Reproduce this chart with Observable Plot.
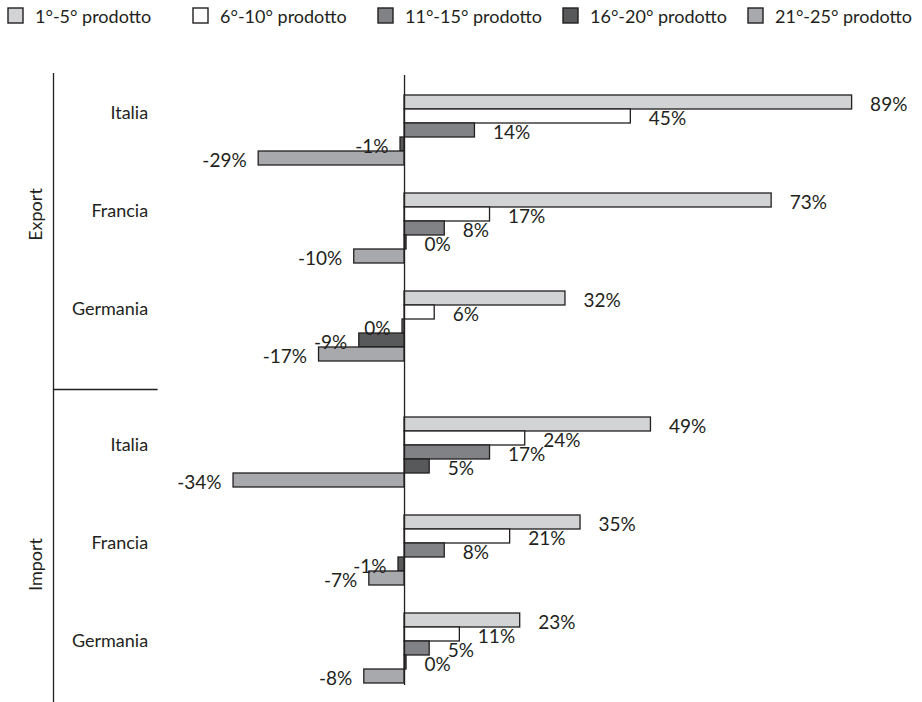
<!DOCTYPE html>
<html>
<head>
<meta charset="utf-8">
<script src="https://cdn.jsdelivr.net/npm/d3@7"></script>
<script src="https://cdn.jsdelivr.net/npm/@observablehq/plot@0.6"></script>
<style>
  html, body { margin: 0; padding: 0; background: #fff; }
  #legend { height: 40px; overflow: hidden; }
  .lg-swatches { font-family: Lato, sans-serif !important; font-size: 18px !important; color: #231f20 !important;
                 height: 31px; min-height: 31px !important; margin: 0 0 0 8px !important; display: flex; align-items: center; flex-wrap: nowrap !important; }
  .lg-swatch { width: 185px; margin: 0 !important; flex: none; white-space: nowrap; }
  .lg-swatch > svg { margin-right: 12px !important; }
  .lg-swatch > svg rect { stroke: #231f20; stroke-width: 1.4px; }
</style>
</head>
<body>
<div id="legend"></div>
<div id="chart"></div>
<script>
// Groups, countries and product-rank classes
const sections = ["Export", "Import"];
const countries = ["Italia", "Francia", "Germania"];
const series = ["1°-5° prodotto", "6°-10° prodotto", "11°-15° prodotto", "16°-20° prodotto", "21°-25° prodotto"];
const colors = ["#d1d3d4", "#ffffff", "#808285", "#58595b", "#a7a9ac"];

// Percentage values, one entry per product class (same order as `series`)
const exportItalia   = [89, 45, 14, -0.8, -29];
const exportFrancia  = [73, 17, 8, 0.4, -10];
const exportGermania = [32, 6, -0.4, -9, -17];
const importItalia   = [49, 24, 17, 5, -34];
const importFrancia  = [35, 21, 8, -1.2, -7];
const importGermania = [23, 11, 5, 0.4, -8];

const values = {
  Export: {Italia: exportItalia, Francia: exportFrancia, Germania: exportGermania},
  Import: {Italia: importItalia, Francia: importFrancia, Germania: importGermania}
};

const key = (s, c, i) => `${s}|${c}|${i}`;

// Flat table of bars
const rows = [];
for (const s of sections)
  for (const c of countries)
    values[s][c].forEach((v, i) => rows.push({section: s, country: c, series: series[i], value: v, key: key(s, c, i)}));

// Band domain: one band per bar, with empty bands separating countries and sections
const yDomain = [];
sections.forEach((s, si) => {
  if (si > 0) for (let k = 0; k < 4; k++) yDomain.push(`sep|${si}|${k}`);
  countries.forEach((c, ci) => {
    if (ci > 0) for (let k = 0; k < 2; k++) yDomain.push(`gap|${s}|${ci}|${k}`);
    series.forEach((_, i) => yDomain.push(key(s, c, i)));
  });
});

const xMin = -69.8, xMax = 102;   // horizontal extent of the frame, in percent
const labelEdge = -49;            // right end of the category-label column
const ink = "#231f20";
const pct = v => `${Math.round(v)}%`;

const countryLabels = s => countries.map(c => ({name: c, key: key(s, c, 1)}));

const legend = Plot.legend({
  color: {domain: series, range: colors},
  legend: "swatches",
  className: "lg",
  swatchSize: 15
});
document.getElementById("legend").append(legend);

const chart = Plot.plot({
  width: 922,
  height: 662,
  marginTop: 35,
  marginBottom: 17,
  marginLeft: 53,
  marginRight: 5,
  style: {fontFamily: "Lato, sans-serif", fontSize: "18px", color: ink, background: "#fff"},
  x: {domain: [xMin, xMax], axis: null},
  y: {domain: yDomain, axis: null, padding: 0, insetTop: 20, insetBottom: 2},
  color: {domain: series, range: colors},
  marks: [
    // section bracket and separator
    Plot.ruleX([xMin], {stroke: ink, strokeWidth: 1.3, insetTop: -2, insetBottom: -17}),
    Plot.ruleY([`sep|1|1`], {x1: xMin, x2: labelEdge, stroke: ink, strokeWidth: 1.3, dy: 7}),
    // bars
    Plot.barX(rows, {x1: 0, x2: "value", y: "key", fill: "series", stroke: ink, strokeWidth: 1.3}),
    // zero line
    Plot.ruleX([0], {stroke: ink, strokeWidth: 1.3}),
    // value labels
    Plot.text(rows.filter(d => d.value >= 0), {x: "value", y: "key", text: d => pct(d.value), textAnchor: "start", dx: 18, dy: 2, fontSize: 19, fill: ink}),
    Plot.text(rows.filter(d => d.value < 0), {x: "value", y: "key", text: d => pct(d.value), textAnchor: "end", dx: -12, dy: 2, fontSize: 19, fill: ink}),
    // country labels
    Plot.text(countryLabels("Export"), {x: labelEdge, y: "key", text: "name", textAnchor: "end", dx: -10, dy: -3, fontSize: 18, fill: ink}),
    Plot.text(countryLabels("Import"), {x: labelEdge, y: "key", text: "name", textAnchor: "end", dx: -10, dy: 7, fontSize: 18, fill: ink}),
    // section labels
    Plot.text([{name: "Export", key: key("Export", "Francia", 1)}, {name: "Import", key: key("Import", "Francia", 3)}],
      {x: xMin, y: "key", text: "name", rotate: -90, dx: -17, fontSize: 18, fill: ink})
  ]
});
document.getElementById("chart").append(chart);
</script>
</body>
</html>
